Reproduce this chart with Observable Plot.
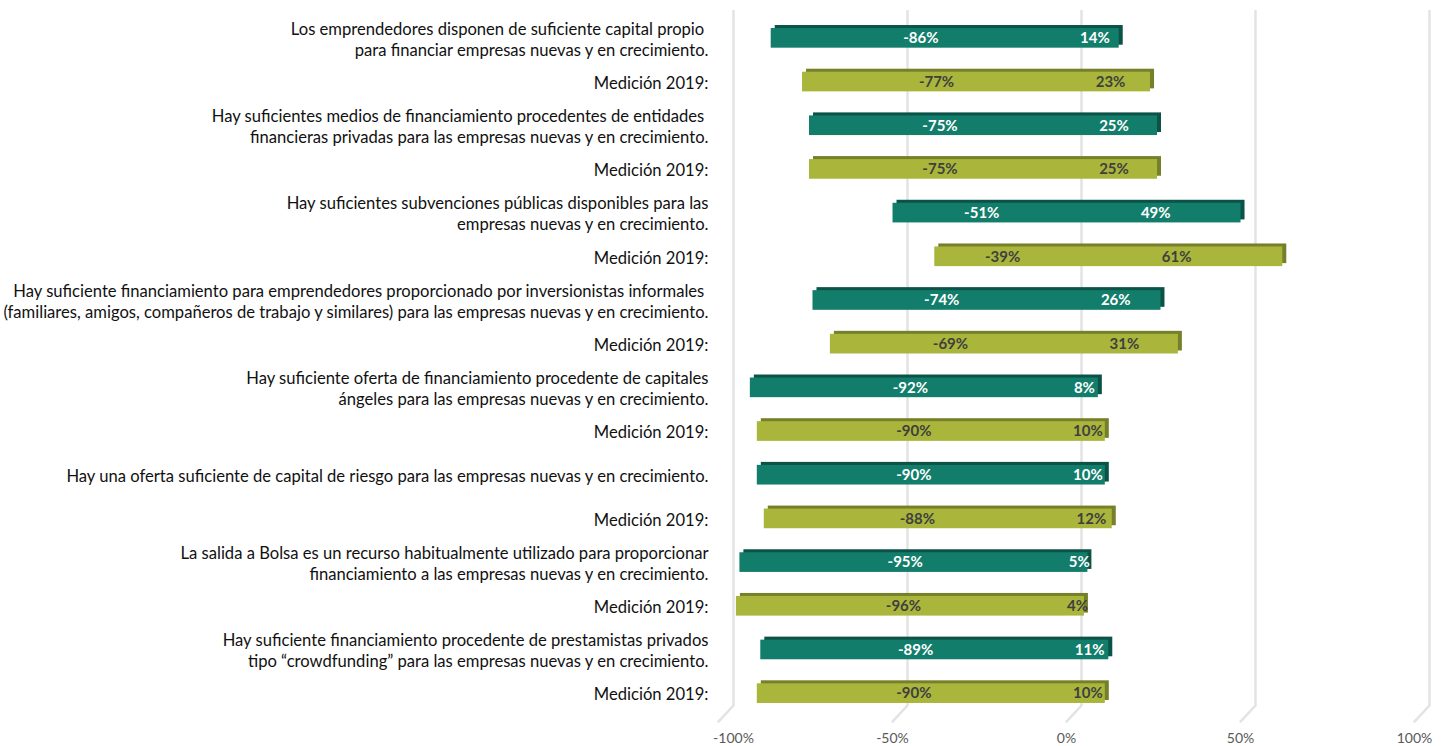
<!DOCTYPE html>
<html>
<head>
<meta charset="utf-8">
<script src="https://cdn.jsdelivr.net/npm/d3@7"></script>
<script src="https://cdn.jsdelivr.net/npm/@observablehq/plot@0.6"></script>
<style>
  html, body { margin: 0; padding: 0; background: #ffffff; }
  #chart { width: 1443px; height: 746px; }
</style>
</head>
<body>
<div id="chart"></div>
<script>
// ---- Data ----
const statements = [
  "Los emprendedores disponen de suficiente capital propio \npara financiar empresas nuevas y en crecimiento.",
  "Hay suficientes medios de financiamiento procedentes de entidades \nfinancieras privadas para las empresas nuevas y en crecimiento.",
  "Hay suficientes subvenciones públicas disponibles para las\nempresas nuevas y en crecimiento.",
  "Hay suficiente financiamiento para emprendedores proporcionado por inversionistas informales \n(familiares, amigos, compañeros de trabajo y similares) para las empresas nuevas y en crecimiento.",
  "Hay suficiente oferta de financiamiento procedente de capitales\nángeles para las empresas nuevas y en crecimiento.",
  "Hay una oferta suficiente de capital de riesgo para las empresas nuevas y en crecimiento.",
  "La salida a Bolsa es un recurso habitualmente utilizado para proporcionar\nfinanciamiento a las empresas nuevas y en crecimiento.",
  "Hay suficiente financiamiento procedente de prestamistas privados\ntipo “crowdfunding” para las empresas nuevas y en crecimiento."
];
const label2019 = "Medición 2019:";
const currentNeg = [-86, -75, -51, -74, -92, -90, -95, -89];
const currentPos = [14, 25, 49, 26, 8, 10, 5, 11];
const m2019Neg = [-77, -75, -39, -69, -90, -88, -96, -90];
const m2019Pos = [23, 25, 61, 31, 10, 12, 4, 10];
const xTicks = [-100, -50, 0, 50, 100];

// ---- Build rows ----
const rows = [];
statements.forEach((s, i) => {
  rows.push({key: "s" + i, label: s, neg: currentNeg[i], pos: currentPos[i], series: "actual"});
  rows.push({key: "m" + i, label: label2019, neg: m2019Neg[i], pos: m2019Pos[i], series: "2019"});
});
const labelOf = new Map(rows.map(d => [d.key, d.label]));

const front = {actual: "#137d6c", "2019": "#a9b63b"};
const side = {actual: "#0b5247", "2019": "#76802a"};
const textCol = {actual: "#ffffff", "2019": "#3f3f3f"};

const segs = rows.flatMap(d => [
  {key: d.key, series: d.series, x1: d.neg, x2: 0, mid: d.neg / 2, v: d.neg},
  {key: d.key, series: d.series, x1: 0, x2: d.pos, mid: d.pos / 2, v: d.pos}
]);

const floorLine = {draw(context, l) { context.moveTo(0, 0); context.lineTo(0, -l); }};

const chart = Plot.plot({
  width: 1443,
  height: 746,
  marginLeft: 722,
  marginRight: 25,
  marginTop: 4,
  marginBottom: 19,
  style: {fontFamily: "Lato, 'Open Sans', sans-serif", background: "#ffffff"},
  x: {domain: [-100, 100]},
  y: {domain: rows.map(d => d.key), padding: 0.55, round: false, label: null},
  marks: [
    // back-wall gridlines
    Plot.ruleX(xTicks, {x: d => d, dx: 11, insetTop: 6, insetBottom: 22, stroke: "#e3e3e3", strokeWidth: 2.5}),
    // floor slants toward the front
    Plot.vector(xTicks, {x: d => d, frameAnchor: "bottom", dx: 11, dy: -22, anchor: "start",
      length: 22, rotate: 223, shape: floorLine, stroke: "#e3e3e3", strokeWidth: 2.5}),
    // bar depth (top + side faces)
    Plot.barX(rows, {x1: "neg", x2: "pos", y: "key", dx: 4, dy: -3, fill: d => side[d.series]}),
    // bar front faces
    Plot.barX(segs, {x1: "x1", x2: "x2", y: "key", fill: d => front[d.series]}),
    // value labels
    Plot.text(segs, {x: "mid", y: "key", text: d => d.v + "%", fill: d => textCol[d.series],
      fontWeight: "bold", fontSize: 15}),
    // category labels
    Plot.axisY({label: null, tickFormat: k => labelOf.get(k), tickSize: 0, tickPadding: 14, fontSize: 16.6,
      lineHeight: 1.27, textAnchor: "end", fill: "#111111"}),
    Plot.axisX({label: null, ticks: xTicks.slice(1), tickFormat: d => d + "%", tickSize: 0, tickPadding: 6, dx: -4,
      fontSize: 14, fill: "#595959"}),
    Plot.axisX({label: null, ticks: xTicks.slice(0, 1), tickFormat: d => d + "%", tickSize: 0, tickPadding: 6, dx: 11,
      fontSize: 14, fill: "#595959"})
  ]
});
document.getElementById("chart").appendChild(chart);
</script>
</body>
</html>
